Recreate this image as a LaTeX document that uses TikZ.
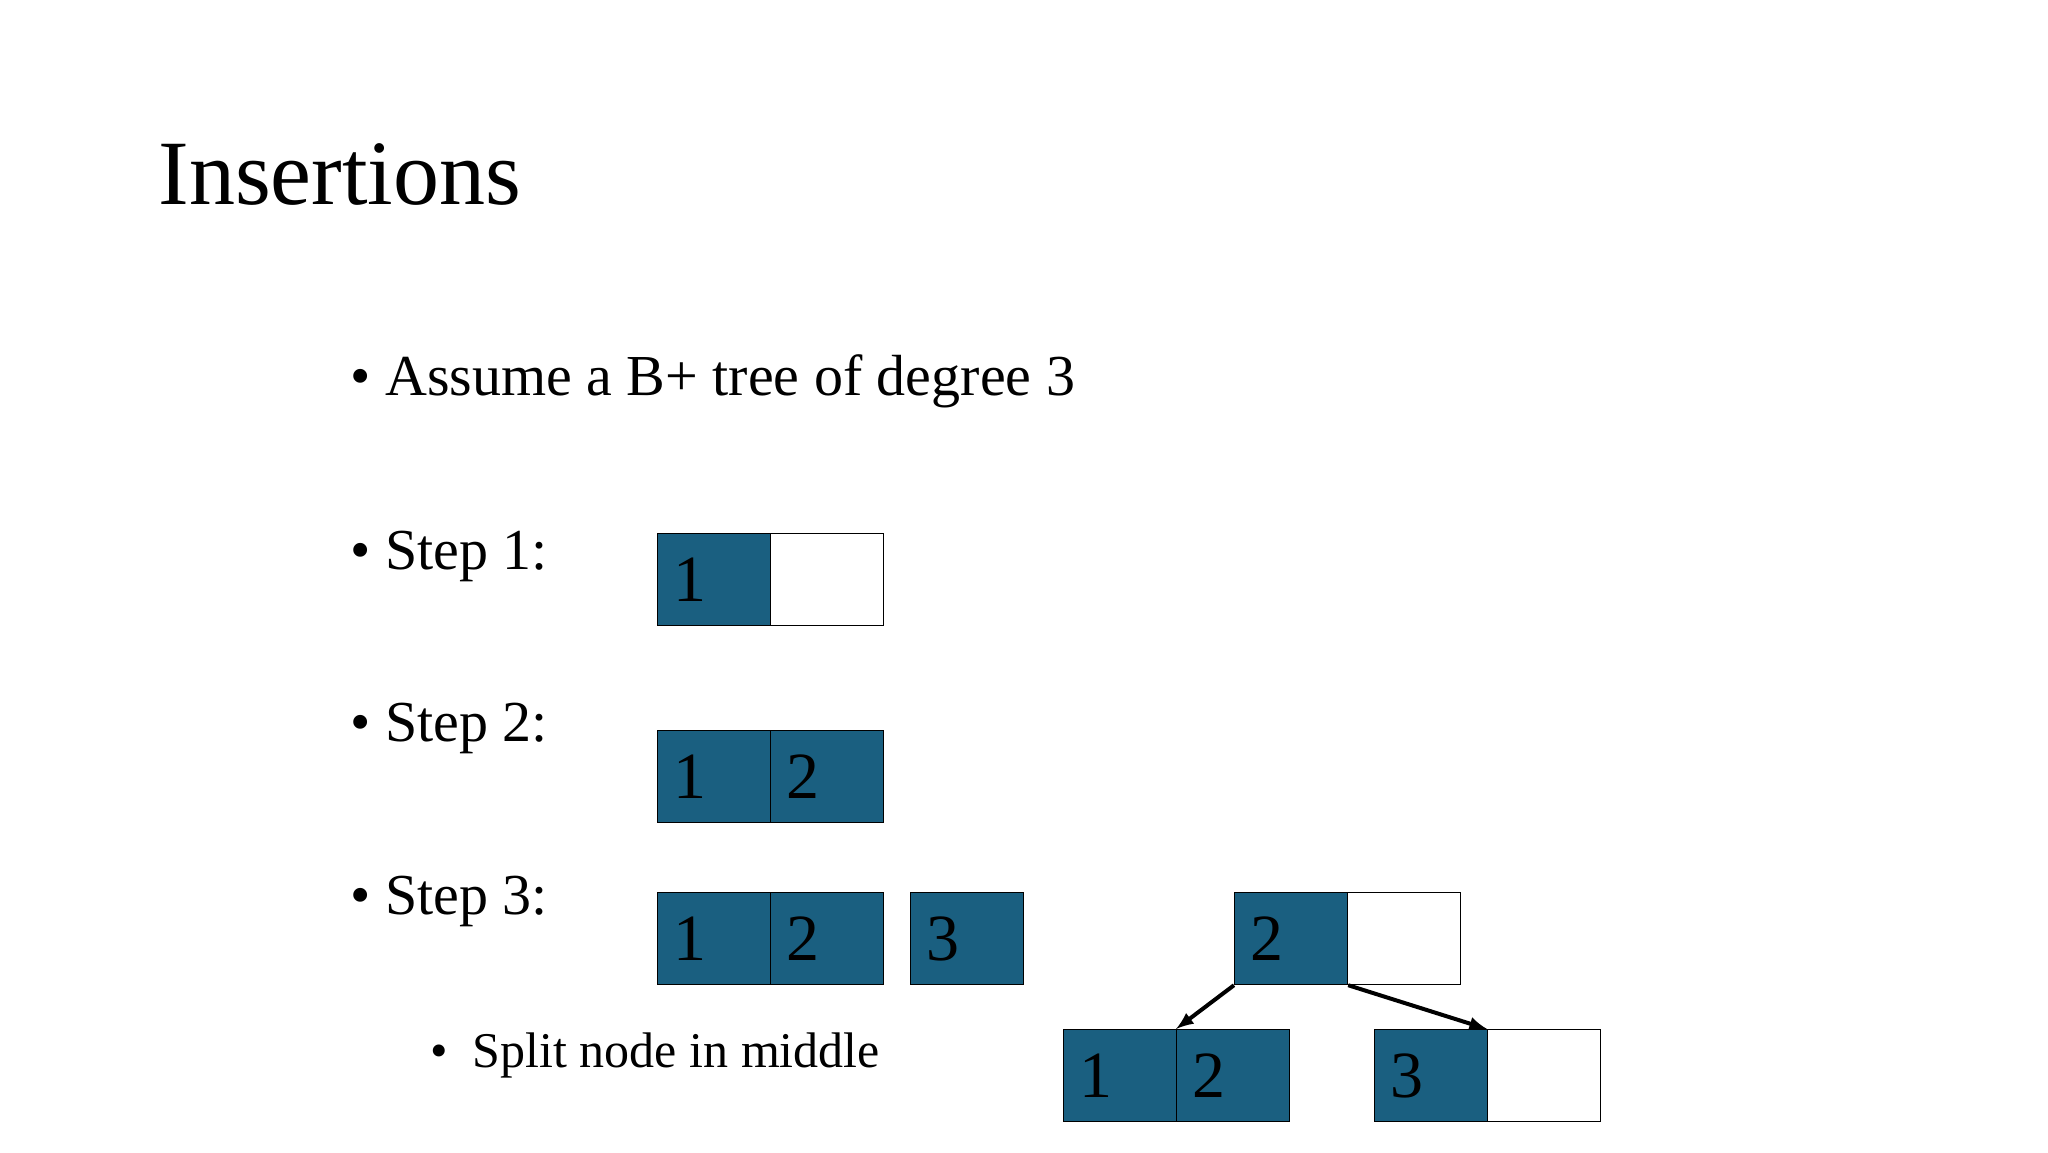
\documentclass[tikz,border=0pt]{standalone}
\usepackage{fontspec}
\setmainfont{Liberation Serif}
\definecolor{cellblue}{HTML}{1A5F80}
\begin{document}
\begin{tikzpicture}[x=0.5pt,y=-0.5pt,
  cell/.style={draw=black,line width=0.6pt,anchor=north west,minimum width=56.5pt,minimum height=46pt,inner xsep=8pt,inner ysep=0pt,text width=40.5pt,align=left,font=\fontsize{33}{33}\selectfont},
  full/.style={cell,fill=cellblue},
  empty/.style={cell,fill=white},
  txt/.style={anchor=base west,inner sep=0pt,font=\fontsize{29}{34}\selectfont},
  arr/.style={-latex,line width=2pt}]
\useasboundingbox (0,0) rectangle (2048,1152);
\node[anchor=base west,inner sep=0pt,font=\fontsize{46}{50}\selectfont] (title) at (158,204) {Insertions};
\node[txt] (b0) at (350,395) {\textbullet\ Assume a B+ tree of degree 3};
\node[txt] (b1) at (350,569) {\textbullet\ Step 1:};
\node[txt] (b2) at (350,741) {\textbullet\ Step 2:};
\node[txt] (b3) at (350,914) {\textbullet\ Step 3:};
\node[anchor=base west,inner sep=0pt,font=\fontsize{25}{30}\selectfont] (b4) at (430,1067) {\textbullet\ \ Split node in middle};
% step 1
\node[full] (s1a) at (657,533) {1};
\node[empty] (s1b) at (770,533) {};
% step 2
\node[full] (s2a) at (657,730) {1};
\node[full] (s2b) at (770,730) {2};
% step 3
\node[full] (s3a) at (657,892) {1};
\node[full] (s3b) at (770,892) {2};
\node[full] (s3c) at (910,892) {3};
\node[full] (ra) at (1234,892) {2};
\node[empty] (rb) at (1347,892) {};
\node[full] (la) at (1063,1029) {1};
\node[full] (lb) at (1176,1029) {2};
\node[full] (ma) at (1374,1029) {3};
\node[empty] (mb) at (1487,1029) {};
\draw[arr] (ra.south west) -- (lb.north west);
\draw[arr] (ra.south east) -- (mb.north west);
\end{tikzpicture}
\end{document}
